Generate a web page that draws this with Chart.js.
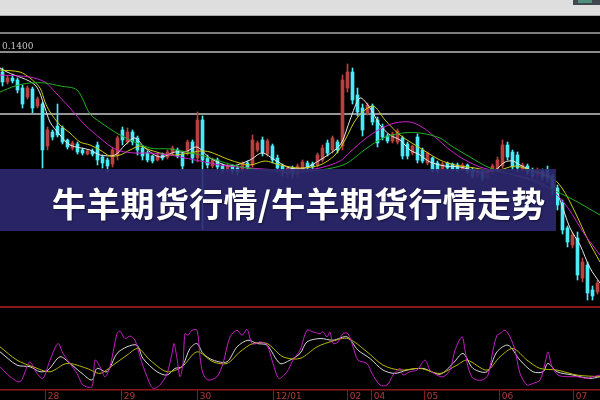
<!DOCTYPE html>
<html>
<head>
<meta charset="utf-8">
<script src="https://cdn.jsdelivr.net/npm/chart.js@4.4.0/dist/chart.umd.min.js"></script>
<style>
  html, body { margin: 0; padding: 0; background: #000; width: 600px; height: 400px; overflow: hidden; }
  #wrap { position: relative; width: 600px; height: 400px; background: #000; }
  .abs { position: absolute; }
  #topbar { left: 0; top: 0; width: 600px; height: 15px; background: #dedede; border-bottom: 1px solid #a8a8a8; }
  #btn { left: 573px; top: 0; width: 27px; height: 5px; background: #3e4a50; }
  #btn i { position: absolute; left: 5px; top: 0; width: 14px; height: 3px; background: #4f8f7c; }
  #main { left: 0; top: 16px; }
  #kdj { left: 0; top: 307px; }
  .hline { left: 0; width: 600px; }
  #info { left: 2px; top: 41px; font: 9px "DejaVu Serif", serif; color: #c4c4c4; }
  #banner { left: 0; top: 169px; width: 556px; height: 62px; background: rgba(44, 40, 112, 0.9);
            display: flex; align-items: center; }
  #banner span { margin-left: 52px; padding-top: 4px; font: 700 34px "Noto Sans CJK SC", sans-serif; color: #fff;
                 letter-spacing: 0.3px; text-shadow: 1px 1px 2px rgba(0,0,0,0.45); white-space: nowrap; }
</style>
</head>
<body>
<div id="wrap">
  <div id="topbar" class="abs"></div>
  <div id="btn" class="abs"><i></i></div>
  <canvas id="main" class="abs" width="600" height="290"></canvas>
  <canvas id="kdj" class="abs" width="600" height="93"></canvas>
  <div class="abs hline" style="top:32px;height:2px;background:#7c7c7c"></div>
  <div class="abs hline" style="top:51px;height:2px;background:#8c8c8c"></div>
  <div class="abs hline" style="top:306px;height:2px;background:#8a1818"></div>
  <div id="info" class="abs">0.1400</div>
  <div id="banner" class="abs"><span>牛羊期货行情/牛羊期货行情走势</span></div>
</div>
<script>
// 120 bars, price readings
const opens = [233,223,227,225,217,208,216,199,201,159, 173,179,177,165,157,161,155,151,154,160,
  148,145,141,150,175,163,173,167,157,152, 149,145,150,148,152,155,151,153,163,147,
  185,147,139,145,139,135,139,137,135,142, 140,155,165,151,159,147,139,131,137,130,
  135,142,141,140,145,162,155,163,159,217, 233,210,197,192,199,185,178,169,164,163,
  167,161,152,168,155,142,147,142,136,142, 141,140,135,140,135,129,133,128,133,135,
  139,160,153,150,135,139,135,129,134,135, 129,117,102,77,60,67,27,40,15,13];
const closes = [223,227,224,215,201,217,197,206,155,175, 168,170,163,158,162,153,152,154,151,145,
  142,139,155,167,165,173,163,155,149,145, 144,150,147,153,157,149,139,163,147,185,
  145,140,145,138,135,139,134,133,142,137, 165,162,152,164,145,137,133,137,131,139,
  143,137,138,150,157,152,167,155,225,233, 205,193,175,200,183,162,168,164,171,174,
  149,149,159,145,144,152,135,135,141,137, 136,135,140,133,129,134,127,133,139,145,
  160,148,138,137,140,133,129,135,128,127, 115,100,75,63,70,30,43,12,9,22];
const highs = [237,229,229,227,220,219,218,208,203,178, 175,201,179,166,164,163,157,155,156,163,
  150,147,157,169,178,177,175,169,159,154, 150,152,152,155,159,157,153,165,165,193,
  189,150,147,147,141,141,140,139,143,144, 170,164,168,166,161,150,141,139,139,141,
  145,144,143,152,160,165,169,165,230,241, 237,217,201,202,201,188,181,171,173,176,
  169,163,160,171,157,153,148,144,143,143, 142,142,142,141,137,136,135,135,141,148,
  165,163,155,153,142,141,137,137,136,139, 131,120,105,79,73,73,47,43,19,25];
const lows = [219,221,222,212,197,206,192,197,137,155, 165,168,161,156,155,151,150,150,149,140,
  137,133,138,145,160,161,160,150,145,143, 142,144,145,146,150,147,135,150,142,143,
  75,137,137,135,132,133,131,130,133,135, 138,153,149,149,142,133,129,128,127,128,
  133,135,136,138,143,149,152,152,155,213, 201,189,169,190,180,158,165,162,162,161,
  146,146,150,142,142,140,133,132,134,135, 134,133,134,131,127,127,124,126,131,133,
  137,145,135,133,133,130,127,127,125,123, 110,95,71,58,57,25,23,5,5,11];

// moving averages: [bar, price]
const ma5 = [[-0.5,237],[0.9,233],[6.5,220],[8.5,197],[9.5,183],[11.5,170],[13.5,160],[17.5,155],[19.5,150],
  [22.5,150],[24.5,160],[26.5,167],[28.5,157],[31.5,148],[34.5,153],[36.5,153],[38.9,158],[41.5,147],
  [45.5,139],[49.5,145],[51.9,152],[54.5,145],[57.5,137],[60.5,137],[63.5,145],[66.5,155],[67.9,163],
  [69.5,185],[71.5,207],[73.5,197],[75.5,180],[77.5,170],[79.5,165],[81.5,155],[83.5,150],[85.5,143],
  [88.5,139],[91.5,138],[95.5,133],[98.5,135],[100.5,143],[102.1,144],[103.5,140],[106.5,133],
  [109.5,127],[111.5,105],[113.5,77],[115.5,60],[117.5,37],[119.5,22]];
const ma10 = [[-0.5,235],[3.5,233],[5.5,227],[7.5,217],[8.5,203],[9.5,193],[11.5,180],[13.5,172],[15.5,163],
  [17.5,160],[19.5,155],[21.5,149],[23.5,150],[25.5,155],[27.5,159],[29.5,155],[33.5,150],[37.5,152],
  [39.5,154],[41.5,153],[45.5,145],[49.5,140],[52.5,144],[55.5,140],[59.5,137],[63.5,140],[66.5,150],
  [68.5,165],[70.9,187],[74.1,199],[76.5,185],[79.5,170],[83.5,157],[87.5,145],[90.5,140],[94.5,137],
  [98.5,134],[102.5,139],[105.5,135],[109.5,129],[111.9,117],[114.5,93],[117.1,65],[119.5,43]];
const ma20 = [[-0.5,230],[3.5,229],[5.5,228],[8.5,223],[10.5,213],[13.5,197],[16.5,180],[19.5,167],[21.5,159],
  [23.5,154],[26.5,152],[29.5,152],[33.5,150],[36.5,147],[39.5,144],[43.5,140],[49.5,137],[55.5,135],
  [59.5,135],[63.5,137],[67.5,144],[69.5,153],[72.5,166],[75.5,176],[78.5,182],[81.5,183],[83.9,178],
  [86.5,168],[89.5,155],[92.5,145],[95.5,138],[99.5,133],[103.5,129],[107.5,123],[110.5,112],
  [113.1,97],[116.5,70],[119.5,50]];
const ma60 = [[-0.5,213],[2.5,219],[5.5,222],[8.5,222],[11.5,219],[14.9,215],[17.5,191],[19.5,183],[23.5,170],
  [29.5,157],[33.5,156],[39.5,150],[46.1,140],[51.5,135],[59.5,133],[68.1,140],[72.9,157],[76.1,167],
  [80.1,172],[83.5,172],[87.5,167],[89.5,160],[93.5,148],[97.5,137],[105.5,125],[113.5,107],[119.5,90]];
const levelLine = [[-0.5,191],[119.5,191]];

// lower panel (0-100): [bar, value]
const kLine = [[-0.5,28],[1.5,16],[3.5,10],[4.9,28],[5.5,34],[6.9,20],[8.1,14],[9.5,36],[11.1,56],[12.1,44],
  [13.5,32],[14.9,20],[16.1,6],[17.9,4],[18.5,36],[19.5,28],[20.5,16],[21.5,28],[22.9,68],[23.5,71],
  [24.5,62],[25.5,65],[26.5,60],[27.5,40],[28.9,16],[30.1,2],[31.5,6],[32.9,20],[33.9,44],[34.3,56],
  [34.9,38],[35.5,16],[36.1,32],[36.5,68],[37.1,66],[37.9,72],[38.9,72],[39.5,40],[40.1,20],[41.1,12],
  [42.9,16],[44.1,32],[45.5,64],[46.9,72],[47.9,66],[48.9,73],[49.9,56],[50.9,56],[51.5,58],[52.9,54],
  [54.1,32],[55.3,14],[56.9,22],[58.1,36],[59.5,48],[60.9,72],[62.1,70],[63.5,68],[64.1,70],[64.9,64],
  [65.5,70],[66.1,56],[67.1,58],[68.1,68],[69.1,68],[70.1,52],[71.1,36],[72.9,32],[73.9,20],[75.5,6],
  [76.9,6],[78.1,18],[79.5,26],[80.1,18],[81.5,22],[82.9,24],[84.5,36],[85.5,24],[86.9,18],[88.1,16],
  [89.5,24],[90.5,48],[91.9,64],[92.5,48],[93.1,28],[94.1,14],[95.9,12],[97.1,18],[98.1,48],[98.9,66],
  [99.5,68],[100.5,72],[101.5,64],[102.5,48],[103.5,20],[104.9,6],[106.1,8],[107.5,12],[108.5,32],
  [109.1,46],[109.9,28],[111.1,18],[112.9,16],[114.9,16],[116.9,14],[118.1,16],[119.5,18]];
const dLine = [[-0.5,46],[2.9,30],[5.5,28],[7.5,22],[9.1,24],[11.5,40],[13.5,32],[15.9,20],[17.9,12],[18.9,26],
  [20.9,22],[22.9,44],[24.9,52],[26.9,54],[28.1,38],[30.9,22],[32.9,18],[34.5,26],[35.9,28],[37.5,50],
  [38.9,56],[40.1,44],[42.1,36],[44.9,34],[46.9,52],[49.1,60],[50.9,56],[52.9,54],[55.5,32],[57.5,36],
  [59.5,44],[60.9,58],[63.5,62],[66.1,60],[68.9,64],[71.1,48],[73.5,38],[76.1,24],[78.5,20],[80.9,24],
  [84.1,26],[87.5,19],[90.1,32],[92.1,44],[94.1,26],[96.9,22],[98.9,46],[101.1,54],[103.5,36],[106.1,22],
  [108.1,22],[109.1,32],[110.9,22],[114.1,18],[117.5,14],[119.5,16]];
const jLine = [[-0.5,52],[2.9,36],[6.1,28],[9.5,22],[12.9,32],[16.9,26],[19.5,20],[22.1,30],[24.9,42],[27.1,50],
  [29.5,36],[32.9,22],[35.9,28],[38.9,46],[42.1,34],[44.9,32],[47.5,46],[50.1,56],[52.9,56],[56.1,40],
  [59.5,38],[62.9,52],[66.1,59],[69.1,62],[72.9,46],[76.1,30],[79.5,24],[83.5,26],[87.5,20],[90.9,30],
  [92.9,36],[96.9,24],[99.5,40],[102.1,50],[104.9,36],[107.5,26],[110.9,24],[114.9,18],[119.5,16]];

const dayLabels = ['28', '29', '30', '12/01', '02', '04', '05', '06', '07'];
const dayTicks = [8.5, 23.7, 38.9, 54.1, 68.9, 73.7, 84.3, 99.3, 114.1];

const UP = '#b8403f';
const DOWN = '#4ceaf6';
const pts = a => a.map(p => ({x: p[0], y: p[1]}));
const candleColor = ctx => closes[ctx.dataIndex] > opens[ctx.dataIndex] ? UP : DOWN;

function maSet(data, color) {
    return {type: 'line', data: pts(data), borderColor: color, borderWidth: 1,
            pointRadius: 0, tension: 0.3, order: 0};
}

new Chart(document.getElementById('main'), {
    type: 'bar',
    data: {
        datasets: [
            {type: 'line', data: pts(levelLine), borderColor: '#c8c8c8', borderWidth: 1.5, pointRadius: 0, order: 3},
            {data: lows.map((l, i) => ({x: i, y: [l, highs[i]]})), backgroundColor: candleColor,
             barThickness: 1, grouped: false, order: 2},
            {data: opens.map((o, i) => ({x: i, y: [o, closes[i]]})), backgroundColor: candleColor,
             barThickness: 3, grouped: false, order: 1},
            maSet(ma60, '#22b022'),
            maSet(ma20, '#cc22cc'),
            maSet(ma10, '#cccc10'),
            maSet(ma5, '#e6e6e6')
        ]
    },
    options: {
        responsive: false,
        animation: false,
        devicePixelRatio: 1,
        events: [],
        layout: {padding: 0},
        plugins: {legend: {display: false}, tooltip: {enabled: false}},
        scales: {
            x: {type: 'linear', min: -0.5, max: 119.5, offset: false, display: false},
            y: {min: -1, max: 289, display: false}
        }
    }
});

function kdjSet(data, color) {
    return {data: pts(data), borderColor: color, borderWidth: 1, pointRadius: 0, tension: 0.3};
}

new Chart(document.getElementById('kdj'), {
    type: 'line',
    data: {
        datasets: [
            kdjSet(kLine, '#c41ec4'),
            kdjSet(jLine, '#b8b800'),
            kdjSet(dLine, '#d8d8d8')
        ]
    },
    options: {
        responsive: false,
        animation: false,
        devicePixelRatio: 1,
        events: [],
        layout: {padding: 0},
        plugins: {legend: {display: false}, tooltip: {enabled: false}},
        scales: {
            x: {
                type: 'linear', min: -0.5, max: 119.5,
                afterBuildTicks: s => { s.ticks = dayTicks.map(v => ({value: v})); },
                afterFit: s => { s.height = 10; },
                ticks: {
                    autoSkip: false, maxRotation: 0, align: 'start', padding: -9,
                    color: '#b03a3a', font: {size: 9, family: 'DejaVu Sans'},
                    callback: (v, i) => ' ' + dayLabels[i]
                },
                grid: {drawOnChartArea: false, drawTicks: true, tickLength: 10, color: '#8a1818'},
                border: {display: true, color: '#8a1818', width: 1.5}
            },
            y: {min: 0, max: 100, display: false}
        }
    }
});
</script>
</body>
</html>
